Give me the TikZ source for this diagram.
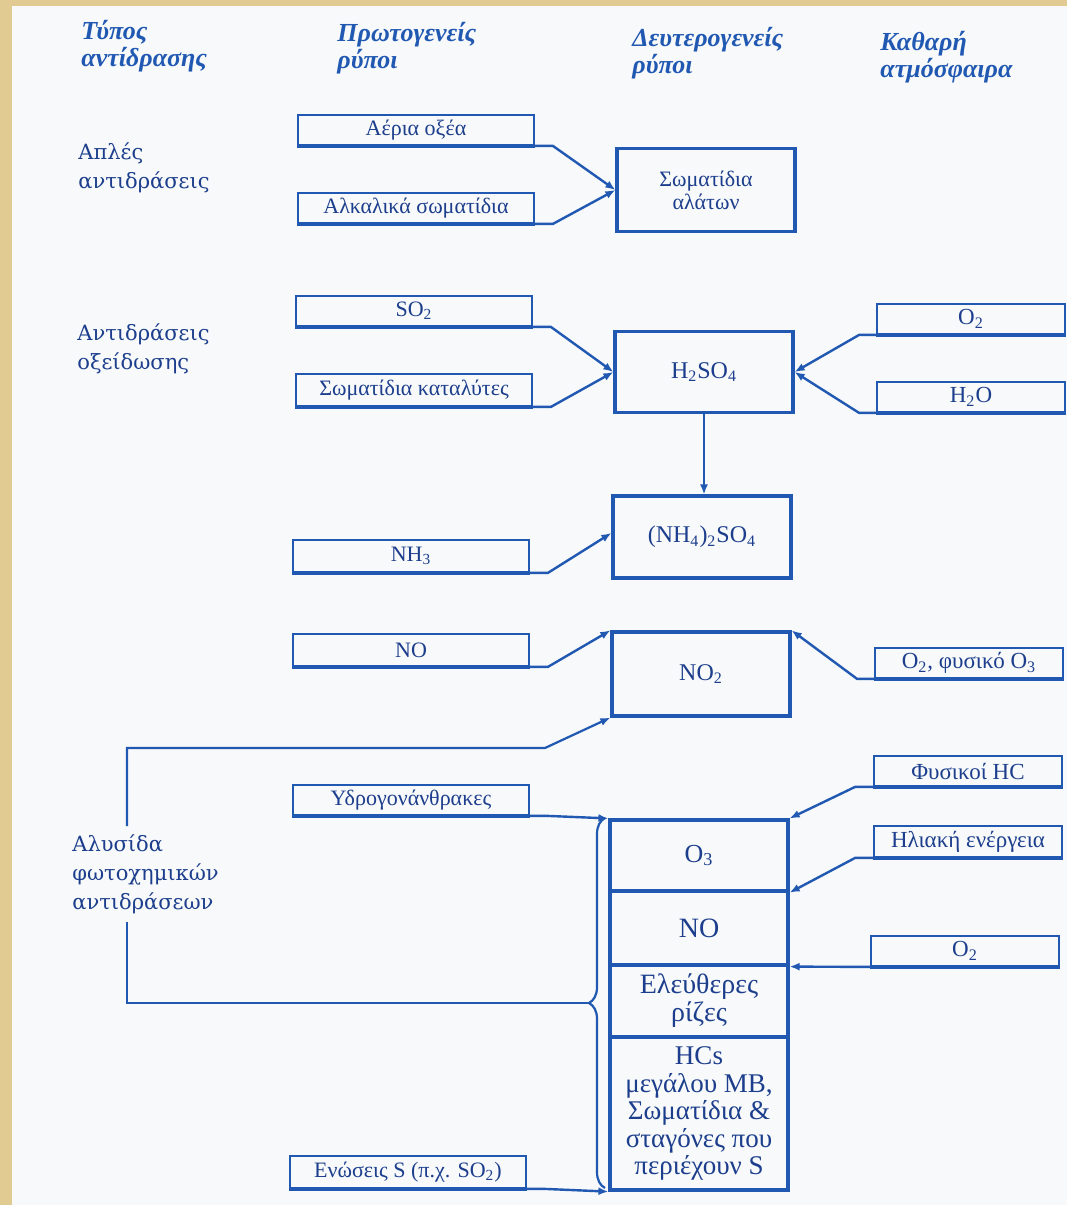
\documentclass[tikz,border=0pt]{standalone}
\usepackage{fontspec}
\setmainfont{Liberation Serif}
\newfontfamily\lblfont{DejaVu Serif}
\usetikzlibrary{arrows.meta,positioning,decorations.pathreplacing}
\definecolor{ink}{RGB}{32,88,178}
\definecolor{inktext}{RGB}{28,62,140}
\definecolor{paper}{RGB}{247,249,251}
\definecolor{tan}{RGB}{226,203,146}

\begin{document}
\begin{tikzpicture}[x=0.5pt,y=-0.5pt,inner sep=1mm,
    src/.style={draw=ink,line width=0.9pt,minimum width=118pt,minimum height=15pt,inner sep=0pt,text=inktext,font=\fontsize{11}{12}\selectfont},
    rgt/.style={src,minimum width=94pt,font=\fontsize{11.5}{12}\selectfont},
    prod/.style={draw=ink,line width=1.6pt,minimum width=89pt,align=center,inner sep=0pt,text=inktext},
    cell/.style={prod,font=\fontsize{14}{14}\selectfont},
    head/.style={anchor=north west,align=left,inner sep=0pt,text=ink,font=\fontsize{13}{13.5}\selectfont\bfseries\itshape},
    kind/.style={anchor=north west,align=left,inner sep=0pt,text=inktext,font=\lblfont\fontsize{10.5}{14.5}\selectfont},
    base/.style={draw=ink,line width=2pt},
    feed/.style={draw=ink,line width=1.2pt,-{Latex[length=5pt,width=4pt]}},
    ret/.style={draw=ink,line width=1.1pt}]
  % page
  \fill[tan] (0,0) rectangle (1067,1205);
  \fill[paper] (12,6) rectangle (1067,1205);
  \useasboundingbox (0,0) rectangle (1067,1205);

  % column heads
  \node[head] (typ) at (81,20) {Τύπος\\αντίδρασης};
  \node[head] (prim) at (337,22) {Πρωτογενείς\\ρύποι};
  \node[head] (sec) at (632,27) {Δευτερογενείς\\ρύποι};
  \node[head] (clean) at (880,31) {Καθαρή\\ατμόσφαιρα};

  % kinds of reaction
  \node[kind] (simple) at (78,142) {Απλές\\αντιδράσεις};
  \node[kind] (oxid) at (77,323) {Αντιδράσεις\\οξείδωσης};
  \node[kind,inner sep=4pt] (chain) at (64,826) {Αλυσίδα\\φωτοχημικών\\αντιδράσεων};

  % primary pollutants
  \node[src] (aer) at (416,130) {Αέρια οξέα};
  \node[src] (alk) at (416,208) {Αλκαλικά σωματίδια};
  \node[src] (so2) at (414,311) {SO\textsubscript{2}};
  \node[src,minimum height=16pt] (cat) at (414,390) {Σωματίδια καταλύτες};
  \node[src,minimum height=16pt] (nh3) at (411,556) {NH\textsubscript{3}};
  \node[src,minimum height=16pt] (no) at (411,650) {NO};
  \node[src] (hc) at (411,800) {Υδρογονάνθρακες};
  \node[src,minimum height=16pt] (sul) at (408,1172) {Ενώσεις S (π.χ. SO\textsubscript{2})};

  % secondary pollutants
  \node[prod,minimum height=41.5pt,font=\fontsize{11}{11.5}\selectfont] (salt) at (706,190) {Σωματίδια\\αλάτων};
  \node[prod,minimum height=40.5pt,font=\fontsize{12}{14}\selectfont] (h2so4) at (704,372) {H\textsubscript{2}SO\textsubscript{4}};
  \node[prod,minimum height=41pt,font=\fontsize{12}{14}\selectfont] (nh4) at (702,537) {(NH\textsubscript{4})\textsubscript{2}SO\textsubscript{4}};
  \node[prod,minimum height=42pt,font=\fontsize{12}{14}\selectfont] (no2) at (701,674) {NO\textsubscript{2}};
  \node[cell,minimum height=35.5pt,font=\fontsize{13}{14}\selectfont] (o3) at (699,855.5) {O\textsubscript{3}};
  \node[cell,minimum height=37pt] (nop) at (699,928) {NO};
  \node[cell,minimum height=36pt,font=\fontsize{14}{14}\selectfont] (rad) at (699,1001) {Ελεύθερες\\ρίζες};
  \node[cell,minimum height=76.5pt,font=\fontsize{13.5}{13.75}\selectfont] (hcs) at (699,1113.5) {HCs\\μεγάλου MB,\\Σωματίδια \&\\σταγόνες που\\περιέχουν S};

  % clean atmosphere
  \node[rgt] (ro2) at (971,319) {O\textsubscript{2}};
  \node[rgt] (rh2o) at (971,397) {H\textsubscript{2}O};
  \node[rgt] (rno3) at (969,663) {O\textsubscript{2}, φυσικό O\textsubscript{3}};
  \node[rgt] (rhc) at (968,771) {Φυσικοί HC};
  \node[rgt,minimum height=15.5pt] (rsun) at (968,841.5) {Ηλιακή ενέργεια};
  \node[rgt] (ro2b) at (965,951) {O\textsubscript{2}};

  % heavy lower edges
  \foreach \n in {aer,alk,so2,cat,nh3,no,hc,sul,ro2,rh2o,rno3,rhc,rsun,ro2b}
    \draw[base] (\n.south west) -- (\n.south east);

  \draw[feed] (aer.south east) -- ++(18,0) -- (salt.west);
  \draw[feed] (alk.south east) -- ++(18,0) -- (salt.west);
  \draw[feed] (so2.south east) -- ++(18,0) -- (h2so4.west);
  \draw[feed] (cat.south east) -- ++(18,0) -- (h2so4.west);
  \draw[feed] (nh3.south east) -- ++(18,0) -- ([yshift=2pt]nh4.west);
  \draw[feed] (no.south east) -- ++(18,0) -- (no2.north west);
  \draw[feed] (hc.south east) -- ++(18,0) -- (o3.north west);
  \draw[feed] (sul.south east) -- ++(18,0) -- (hcs.south west);
  \draw[feed,line width=0.9pt] (h2so4.south) -- (h2so4.south |- nh4.north);

  \draw[feed] (ro2.south west) -- ++(-17,0) -- (h2so4.east);
  \draw[feed] (rh2o.south west) -- ++(-17,0) -- (h2so4.east);
  \draw[feed] (rno3.south west) -- ++(-17,0) -- (no2.north east);
  \draw[feed] (rhc.south west) -- ++(-18,0) -- (o3.north east);
  \draw[feed] (rsun.south west) -- ++(-18,0) -- (o3.south east);
  \draw[feed] (ro2b.south west) -- (nop.south east);

  % the chain back to NO2
  \draw[ret,decorate,decoration={brace,amplitude=8pt}] (605,1188) -- (605,818);
  \coordinate (btip) at (588,1003);
  \coordinate (lx) at (127,748);
  \coordinate (lk) at (545,748);
  \draw[ret] (btip) -| (lx |- chain.south);
  \draw[ret,feed,line width=1.1pt] (lx |- chain.north) -- (lx) -- (lk) -- (no2.south west);
\end{tikzpicture}
\end{document}
